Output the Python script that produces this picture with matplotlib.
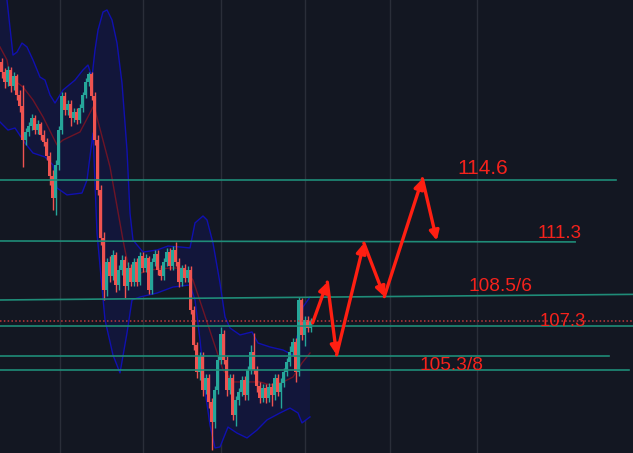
import matplotlib
matplotlib.use("Agg")
import matplotlib.pyplot as plt
import numpy as np

# ---- candle data (one bar per step) ----
first_open = 120.90
closes = [120.37, 119.84, 120.48, 119.63, 120.16, 119.15, 118.56, 116.75, 117.18, 117.50,
          117.92, 117.28, 117.60, 117.02, 116.65, 115.90, 114.84, 113.67, 115.42, 117.28,
          119.09, 118.35, 118.67, 117.92, 118.24, 117.82, 118.45, 119.15, 119.84, 120.26,
          119.09, 116.75, 114.09, 111.54, 108.77, 110.26, 109.52, 110.63, 109.04, 109.84,
          110.37, 108.99, 109.94, 109.20, 110.26, 109.20, 110.58, 109.94, 110.47, 108.77,
          110.26, 110.69, 109.84, 109.52, 110.26, 110.79, 110.05, 110.90, 110.26, 109.20,
          109.94, 109.41, 109.84, 107.71, 105.85, 104.41, 105.26, 103.45, 104.09, 102.81,
          101.75, 103.45, 105.05, 106.43, 105.05, 103.45, 104.09, 102.12, 102.92, 103.35,
          103.98, 103.19, 104.52, 105.47, 104.52, 103.66, 103.03, 103.56, 103.03, 103.61,
          103.19, 104.09, 103.35, 103.82, 104.41, 104.94, 105.47, 106.01, 104.41, 108.24,
          106.38, 107.18, 106.75, 107.12]
highs = [121.11, 120.58, 120.69, 120.64, 120.37, 120.26, 119.41, 119.68, 117.39, 117.71,
         118.14, 118.08, 117.82, 117.71, 117.28, 116.86, 116.11, 115.16, 115.69, 117.50,
         119.31, 119.31, 118.88, 118.88, 118.45, 118.45, 118.67, 119.31, 120.05, 120.37,
         120.37, 119.31, 117.02, 114.36, 111.86, 110.47, 110.58, 110.90, 110.79, 110.10,
         110.63, 110.58, 110.26, 110.16, 110.47, 110.47, 110.79, 110.79, 110.69, 110.58,
         110.47, 110.90, 110.90, 110.10, 110.47, 111.01, 111.01, 111.11, 111.33, 110.47,
         110.10, 110.16, 110.05, 110.05, 107.92, 106.01, 105.47, 105.47, 104.30, 104.30,
         103.03, 103.66, 105.26, 106.80, 106.64, 105.26, 104.30, 104.30, 103.13, 103.56,
         104.20, 104.20, 104.73, 105.85, 106.48, 104.73, 103.88, 103.77, 103.77, 103.82,
         103.82, 104.30, 104.30, 104.09, 104.62, 105.15, 105.79, 106.22, 106.22, 108.40,
         108.35, 107.39, 107.39, 107.28]
lows = [120.05, 119.52, 119.63, 119.31, 119.41, 118.88, 118.24, 115.32, 116.49, 116.97,
        117.28, 117.07, 117.07, 116.75, 116.43, 115.69, 114.36, 113.03, 112.76, 115.16,
        117.07, 118.08, 118.08, 117.50, 117.71, 117.60, 117.66, 118.24, 118.99, 119.63,
        118.88, 116.49, 113.83, 111.17, 108.24, 108.45, 109.20, 109.30, 108.67, 108.77,
        109.57, 108.35, 108.77, 108.99, 108.99, 108.99, 109.04, 109.73, 109.73, 108.56,
        108.56, 110.05, 109.57, 109.30, 109.30, 110.05, 109.84, 109.84, 110.05, 108.93,
        108.99, 109.20, 109.20, 107.50, 105.58, 104.09, 103.98, 103.13, 103.24, 102.49,
        100.26, 101.43, 103.24, 104.84, 104.84, 103.13, 103.24, 101.86, 101.54, 102.65,
        103.13, 102.92, 102.92, 104.30, 104.30, 103.35, 102.76, 102.81, 102.76, 102.81,
        102.60, 102.92, 103.13, 102.49, 103.61, 104.20, 104.73, 105.26, 103.88, 104.20,
        106.11, 105.79, 106.54, 106.54]
opens = [first_open] + closes[:-1]

# ---- bollinger bands (bar position, price) ----
upper_x = [-0.5, 1.83, 3.83, 5.17, 6.83, 8.5, 10.5, 12.83, 14.5, 16.17, 17.83, 20.5, 24.5,
           27.17, 28.83, 30.17, 31.17, 32.17, 33.83, 35.17, 36.83, 38.5, 40.17, 41.83,
           42.83, 43.83, 47.17, 51.83, 55.5, 59.5, 62.83, 64.5, 67.17, 68.5, 70.5, 72.83,
           74.5, 76.17, 79.5, 83.5, 85.5, 89.5, 93.83, 97.17, 98.83, 100.5, 102.83]
upper_y = [126.33, 124.20, 121.27, 121.43, 121.91, 121.70, 121.01, 120.10, 119.94, 119.15,
           118.72, 119.41, 119.94, 120.48, 120.74, 120.10, 121.54, 122.60, 123.56, 123.67,
           123.14, 121.91, 119.78, 116.22, 112.87, 111.43, 110.79, 110.90, 111.11, 111.06,
           111.01, 112.34, 112.71, 112.50, 111.27, 109.14, 107.34, 106.75, 106.38, 106.54,
           105.95, 105.74, 105.58, 105.31, 106.48, 107.87, 108.40]
lower_x = [-0.5, 2.17, 4.5, 7.83, 10.5, 14.5, 17.17, 18.5, 21.83, 26.83, 28.5, 30.5, 31.83,
           34.5, 37.17, 39.5, 41.83, 43.5, 46.17, 51.83, 57.17, 62.83, 64.5, 66.17, 67.83,
           69.5, 71.17, 72.83, 75.5, 78.5, 81.83, 85.17, 88.5, 92.83, 96.17, 98.83, 100.17,
           102.83]
lower_y = [117.71, 117.28, 117.39, 116.59, 116.06, 115.85, 115.42, 114.20, 113.83, 113.93,
           114.62, 117.12, 111.80, 107.18, 105.31, 104.36, 106.48, 108.24, 108.40, 108.61,
           108.93, 109.04, 108.24, 106.11, 103.45, 101.59, 100.37, 100.42, 101.48, 101.16,
           100.90, 101.32, 101.86, 102.23, 102.49, 102.23, 101.70, 102.02]
mid_x = [-0.5, 1.83, 2.83, 7.17, 10.5, 13.83, 17.17, 18.5, 20.5, 26.17, 29.5, 30.5, 31.17,
         36.17, 37.83, 40.5, 42.17, 44.5, 49.5, 56.17, 60.5, 63.83, 67.17, 70.5, 73.83,
         77.17, 81.83, 86.17, 89.5, 93.83, 97.17, 100.17, 102.83]
mid_y = [121.70, 121.01, 120.10, 119.57, 118.88, 117.98, 116.91, 116.49, 116.75, 117.18,
         118.19, 118.51, 118.35, 115.32, 113.83, 111.43, 110.10, 109.57, 109.84, 109.94,
         109.94, 109.30, 107.71, 106.11, 104.52, 103.88, 103.88, 103.88, 103.72, 103.88,
         104.14, 104.89, 105.42]

# ---- horizontal levels: (left price, right price, right end bar) ----
level_left = [114.62, 111.38, 108.24, 106.87, 105.26, 104.52]
level_right = [114.62, 111.33, 108.54, 106.87, 105.26, 104.52]
level_end = [204.8, 191.2, 210.5, 210.5, 202.5, 209.2]
last_price = 107.12

# ---- projected path ----
path_x = [103.7, 108.6, 111.7, 120.8, 127.6, 140.3, 145.1]
path_y = [107.02, 109.19, 105.32, 111.26, 108.42, 114.69, 111.40]

# ---- labels ----
label_text = ["114.6", "111.3", "108.5/6", "107.3", "105.3/8"]
label_x = [151.8, 178.8, 155.5, 179.5, 139.2]
label_y = [115.24, 111.78, 108.98, 107.09, 104.73]
label_size = [15, 13.5, 13.8, 13.3, 13.8]

grid_x = [19.5, 47.0, 73.2, 101.2, 129.5, 158.5]

BG = "#131722"
UP = "#26a69a"
DOWN = "#ef5350"

fig = plt.figure(figsize=(6.33, 4.53), dpi=100, facecolor=BG)
ax = fig.add_axes([0, 0, 1, 1])
ax.set_facecolor(BG)
ax.set_xlim(-0.5, 210.5)
ax.set_ylim(100.1, 124.2)
for s in ax.spines.values():
    s.set_visible(False)
ax.set_xticks(grid_x)
ax.set_yticks([])
ax.tick_params(length=0, labelbottom=False)
ax.grid(axis="x", color="#2a2e39", lw=1)
ax.set_axisbelow(True)

# bands
ax.fill(upper_x + lower_x[::-1], upper_y + lower_y[::-1], color="#12163a", zorder=1, lw=0)
ax.plot(upper_x, upper_y, color="#1010b0", lw=1, zorder=2)
ax.plot(lower_x, lower_y, color="#1010b0", lw=1, zorder=2)
ax.plot(mid_x, mid_y, color="#6e1426", lw=1, zorder=2)

# candles
idx = np.arange(len(closes))
o = np.array(opens)
c = np.array(closes)
col = np.where(c >= o, UP, DOWN)
ax.vlines(idx, lows, highs, colors=col, lw=1, zorder=3)
ax.bar(idx, np.maximum(np.abs(c - o), 0.05), bottom=np.minimum(o, c), width=0.85,
       color=col, zorder=3, lw=0)

# levels
for yl, yr, xe in zip(level_left, level_right, level_end):
    ax.plot([-0.5, xe], [yl, yr], color="#1f8c78", lw=1.2, zorder=4)
ax.axhline(last_price, color="#c0393b", lw=1.1, ls=(0, (1, 1.5)), zorder=4)

# projected zigzag
for i in range(len(path_x) - 1):
    ax.annotate("", xy=(path_x[i + 1], path_y[i + 1]), xytext=(path_x[i], path_y[i]),
                arrowprops=dict(arrowstyle="-|>", color="#ff1f12", lw=2.4,
                                mutation_scale=14, shrinkA=0, shrinkB=0), zorder=5)

for t, x, y, fs in zip(label_text, label_x, label_y, label_size):
    ax.text(x, y, t, color="#f5221c", fontsize=fs, family="Liberation Sans",
            ha="left", va="center", zorder=6)

plt.savefig("out.png", dpi=100, facecolor=BG)
